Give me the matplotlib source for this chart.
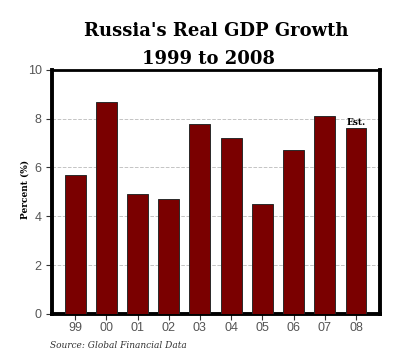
import matplotlib.pyplot as plt

# datos
anios = ["99", "00", "01", "02", "03", "04", "05", "06", "07", "08"]
crecimiento = [5.7, 8.7, 4.9, 4.7, 7.8, 7.2, 4.5, 6.7, 8.1, 7.6]
y_ticks = [0, 2, 4, 6, 8, 10]

fig = plt.figure(figsize=(4, 3.6), dpi=100)
ax = fig.add_axes([0.13, 0.128, 0.82, 0.678])

x = list(range(len(anios)))
ax.bar(x, crecimiento, width=0.67, color="#7a0000", edgecolor="#2a2a2a", linewidth=0.7, zorder=3)

ax.set_xlim(-0.74, 9.77)
ax.set_ylim(0, 10)
ax.set_yticks(y_ticks)
ax.set_xticks(x)
ax.set_xticklabels(anios)
ax.tick_params(axis="both", labelsize=9, labelcolor="#555555", color="#333333", length=4, width=0.8)
ax.tick_params(axis="x", pad=2)
for etiqueta in ax.get_xticklabels() + ax.get_yticklabels():
    etiqueta.set_family("Liberation Sans")

for v in [2, 4, 6, 8]:
    ax.axhline(v, color="#c4c4c4", linestyle="--", linewidth=0.7, zorder=1)

for lado in ["left", "bottom", "right"]:
    ax.spines[lado].set_linewidth(2.8)
ax.spines["top"].set_linewidth(2.0)

fig.text(25 / 400, 1 - 189 / 360, "Percent (%)", family="DejaVu Serif", fontweight="bold",
         fontsize=6.5, rotation=90, ha="center", va="center")

# etiqueta de estimación
ax.text(9, crecimiento[-1] + 0.05, "Est.", family="DejaVu Serif", fontweight="bold",
        fontsize=6.5, ha="center", va="bottom", zorder=4)

fig.text(0.54, 0.913, "Russia's Real GDP Growth", family="DejaVu Serif", fontweight="bold",
         fontsize=13, ha="center", va="center")
fig.text(0.52, 0.835, "1999 to 2008", family="DejaVu Serif", fontweight="bold",
         fontsize=13, ha="center", va="center")
fig.text(0.125, 0.04, "Source: Global Financial Data", family="DejaVu Serif", style="italic",
         fontsize=6.5, ha="left", va="center", color="#333333")

fig.savefig("out.png", dpi=100)
